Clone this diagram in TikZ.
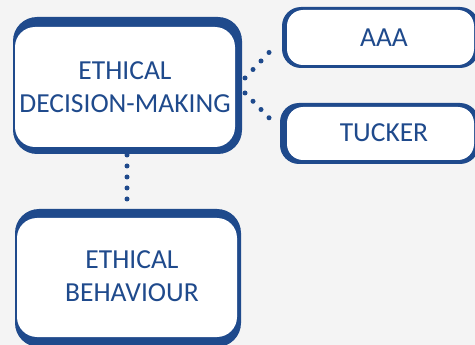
\documentclass[tikz,border=0pt]{standalone}
\usepackage{fontspec}
\setmainfont{Carlito}
\definecolor{bg}{HTML}{F4F4F4}
\definecolor{navy}{HTML}{1F4A8C}
\begin{document}
\begin{tikzpicture}[x=1pt,y=-1pt,
  outerbox/.style={fill=navy,draw=none},
  innerbox/.style={fill=white,draw=none},
  lbl/.style={text=navy,font=\fontsize{27.5}{32.5}\selectfont,align=center,inner sep=0pt},
  dotline/.style={draw=navy,line width=5pt,line cap=round}]
\fill[bg] (0,0) rectangle (475,345);
\useasboundingbox (0,0) rectangle (475,345);
% Ethical decision-making
\fill[outerbox,rounded corners=24pt] (13,17) rectangle (242,154);
\fill[innerbox,rounded corners=20pt] (15,27) rectangle (235,147);
\node[lbl] (dm) at (125,87) {ETHICAL\\DECISION-MAKING};
% AAA
\fill[outerbox,rounded corners=19pt] (282,7) rectangle (479,68);
\fill[innerbox,rounded corners=16pt] (287,10) rectangle (474,65);
\node[lbl] (aaa) at (384,38) {AAA};
% TUCKER
\fill[outerbox,rounded corners=19pt] (280,103) rectangle (479,164);
\fill[innerbox,rounded corners=16pt] (287,107) rectangle (474,160);
\node[lbl] (tucker) at (384,133) {TUCKER};
% Ethical behaviour
\fill[outerbox,rounded corners=24pt] (15,209) rectangle (241,347);
\fill[innerbox,rounded corners=20pt] (17,218) rectangle (237,337);
\node[lbl] (eb) at (132,276) {ETHICAL\\BEHAVIOUR};
% connectors
\coordinate (a1) at (245,78);
\coordinate (a2) at (277,44);
\coordinate (t1) at (245,93);
\coordinate (t2) at (277,126);
\coordinate (v1) at (127,155);
\coordinate (v2) at (127,210);
\draw[dotline,dash pattern=on 0pt off 11.68pt] (a1) -- (a2);
\draw[dotline,dash pattern=on 0pt off 11.5pt] (t1) -- (t2);
\draw[dotline,dash pattern=on 0pt off 11pt] (v1) -- (v2);
\end{tikzpicture}
\end{document}
